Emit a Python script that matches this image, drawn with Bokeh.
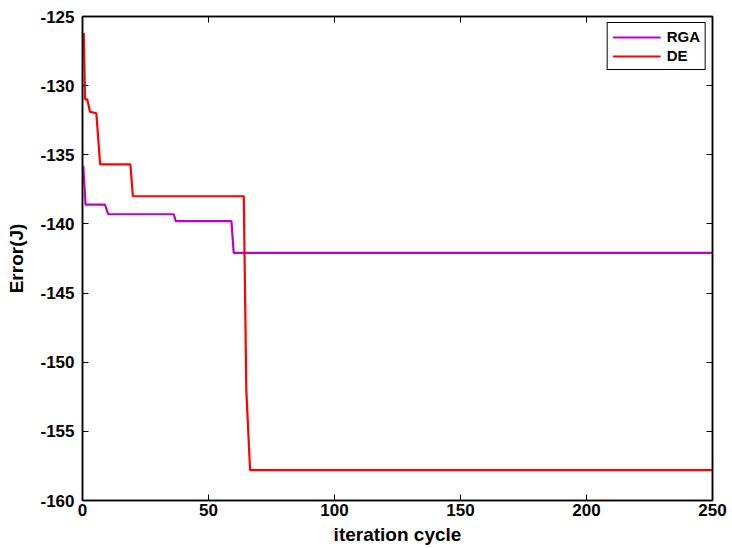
from bokeh.plotting import figure
from bokeh.models import LinearAxis, Range1d, FixedTicker, Legend, LegendItem
from bokeh.embed import file_html
from bokeh.resources import INLINE

# Data
rga_iter = [0.3, 1.2, 8.9, 10.2, 36.2, 37.0, 59.1, 60.0, 250]
rga_err = [-135.8, -138.6, -138.6, -139.3, -139.3, -139.8, -139.8, -142.1, -142.1]

de_iter = [0.5, 1.0, 1.9, 3.0, 5.5, 7.0, 19.0, 20.0, 64.0, 65.0, 66.5, 250]
de_err = [-126.2, -131.0, -131.0, -131.9, -132.0, -135.7, -135.7, -138.0, -138.0, -152.0, -157.8, -157.8]

x_ticks = [0, 50, 100, 150, 200, 250]
y_ticks = [-160, -155, -150, -145, -140, -135, -130, -125]
y_tick_labels = ["-160", "-155", "-150", "-145", "-140", "-135", "-130", "-125"]

FONT = "Liberation Sans"

p = figure(width=732, height=548, output_backend="svg", toolbar_location=None,
           x_range=Range1d(0, 250), y_range=Range1d(-160, -125),
           min_border_left=82, min_border_right=20, min_border_top=16, min_border_bottom=48)
p.grid.visible = False
p.outline_line_color = "black"
p.outline_line_width = 1.5
p.background_fill_color = "white"
p.border_fill_color = "white"

r1 = p.line(rga_iter, rga_err, line_color="#BF00BF", line_width=2.2)
r2 = p.line(de_iter, de_err, line_color="#FF0000", line_width=2.2)

for ax in (p.xaxis[0], p.yaxis[0]):
    ax.major_tick_in = 6
    ax.major_tick_out = 0
    ax.minor_tick_line_color = None
    ax.axis_line_width = 1.5
    ax.major_tick_line_width = 1
    ax.major_label_text_font = FONT
    ax.major_label_text_font_style = "bold"
    ax.major_label_text_font_size = "17px"
    ax.major_label_text_color = "black"
    ax.axis_label_text_font = FONT
    ax.axis_label_text_font_style = "bold"
    ax.axis_label_text_font_size = "19px"
    ax.axis_label_text_color = "black"

p.xaxis[0].ticker = FixedTicker(ticks=x_ticks)
p.yaxis[0].ticker = FixedTicker(ticks=y_ticks)
p.yaxis[0].major_label_overrides = {t: s for t, s in zip(y_ticks, y_tick_labels)}
p.xaxis[0].axis_label = "iteration cycle"
p.yaxis[0].axis_label = "Error(J)"
p.xaxis[0].major_label_standoff = 3
p.xaxis[0].axis_label_standoff = 5
p.yaxis[0].major_label_standoff = 8
p.yaxis[0].axis_label_standoff = 10

for loc, tk in (("above", x_ticks), ("right", y_ticks)):
    a = LinearAxis(ticker=FixedTicker(ticks=tk))
    a.major_tick_in = 6
    a.major_tick_out = 0
    a.minor_tick_line_color = None
    a.major_label_overrides = {t: "" for t in tk}
    a.major_label_text_font_size = "1px"
    a.major_label_standoff = 0
    a.axis_line_width = 1.5
    p.add_layout(a, loc)

legend = Legend(items=[LegendItem(label="RGA", renderers=[r1]),
                       LegendItem(label="DE", renderers=[r2])],
                location="top_right")
legend.label_text_font = FONT
legend.label_text_font_style = "bold"
legend.label_text_font_size = "15px"
legend.label_text_color = "black"
legend.border_line_color = "black"
legend.border_line_width = 1
legend.border_line_alpha = 1
legend.glyph_width = 48
legend.glyph_height = 16
legend.label_height = 16
legend.spacing = 2
legend.padding = 5
legend.margin = 6
legend.label_standoff = 6
legend.background_fill_alpha = 1
p.add_layout(legend)

open("out.html", "w").write(file_html(p, INLINE))
